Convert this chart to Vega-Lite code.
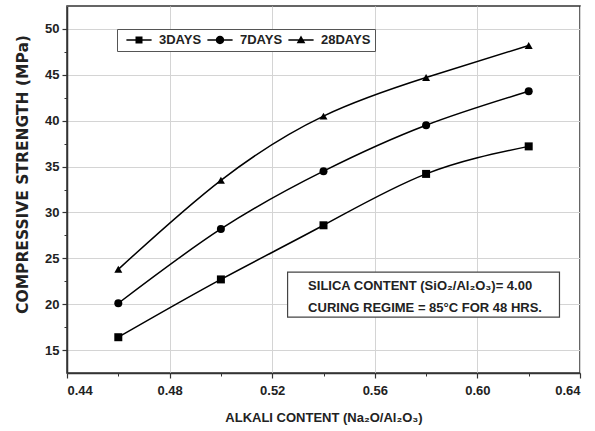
{
  "$schema": "https://vega.github.io/schema/vega-lite/v6.json",
  "width": 513,
  "height": 367,
  "autosize": "none",
  "padding": {"left": 67, "top": 6, "right": 15, "bottom": 58},
  "background": "white",
  "config": {
    "view": {"stroke": "#333", "strokeWidth": 1.5},
    "font": "Liberation Sans"
  },
  "datasets": {
    "main": [
      {"series": "3DAYS", "x": 0.46, "y": 16.4},
      {"series": "3DAYS", "x": 0.50, "y": 22.7},
      {"series": "3DAYS", "x": 0.54, "y": 28.6},
      {"series": "3DAYS", "x": 0.58, "y": 34.2},
      {"series": "3DAYS", "x": 0.62, "y": 37.2},
      {"series": "7DAYS", "x": 0.46, "y": 20.1},
      {"series": "7DAYS", "x": 0.50, "y": 28.2},
      {"series": "7DAYS", "x": 0.54, "y": 34.5},
      {"series": "7DAYS", "x": 0.58, "y": 39.5},
      {"series": "7DAYS", "x": 0.62, "y": 43.2},
      {"series": "28DAYS", "x": 0.46, "y": 23.8},
      {"series": "28DAYS", "x": 0.50, "y": 33.5},
      {"series": "28DAYS", "x": 0.54, "y": 40.5},
      {"series": "28DAYS", "x": 0.58, "y": 44.7},
      {"series": "28DAYS", "x": 0.62, "y": 48.2}
    ],
    "note": [{"x": 0.526, "x2": 0.632, "y": 23.5, "y2": 18.6}],
    "notetext": [
      {"x": 0.534, "y": 22.0, "t": "SILICA CONTENT (SiO₂/Al₂O₃)= 4.00"},
      {"x": 0.534, "y": 19.6, "t": "CURING REGIME = 85°C FOR 48 HRS."}
    ]
  },
  "resolve": {"axis": {"x": "independent", "y": "independent"}, "scale": {"shape": "independent"}},
  "layer": [
    {
      "data": {"name": "main"},
      "mark": {"type": "point", "opacity": 0},
      "encoding": {
        "x": {"field": "x", "type": "quantitative", "scale": {"domain": [0.44, 0.64], "nice": false, "zero": false},
          "axis": {"orient": "bottom", "values": [0.46, 0.50, 0.54, 0.58, 0.62], "labels": false, "grid": false, "domain": false, "tickSize": 3, "tickColor": "#333", "tickWidth": 1, "title": null}},
        "y": {"field": "y", "type": "quantitative", "scale": {"domain": [12.5, 52.5], "nice": false, "zero": false},
          "axis": {"orient": "left", "values": [17.5, 22.5, 27.5, 32.5, 37.5, 42.5, 47.5], "labels": false, "grid": false, "domain": false, "tickSize": 3, "tickColor": "#333", "tickWidth": 1, "title": null}}
      }
    },
    {
      "data": {"name": "main"},
      "mark": {"type": "line", "interpolate": "natural", "color": "black", "strokeWidth": 1.5},
      "encoding": {
        "x": {"field": "x", "type": "quantitative", "scale": {"domain": [0.44, 0.64], "nice": false, "zero": false},
          "axis": {"orient": "bottom", "values": [0.44, 0.48, 0.52, 0.56, 0.60, 0.64], "format": ".2f", "grid": true, "gridColor": "#d4d4d4", "gridWidth": 1,
            "domainColor": "#333", "domainWidth": 1.5, "tickColor": "#333", "tickSize": 5, "tickWidth": 1.2,
            "labelFont": "Liberation Sans", "labelFontWeight": "bold", "labelFontSize": 13, "labelColor": "#222", "labelPadding": 6,
            "title": "ALKALI CONTENT (Na₂O/Al₂O₃)", "titleFont": "Liberation Sans", "titleFontSize": 13, "titleFontWeight": "bold", "titleColor": "#222", "titlePadding": 14}},
        "y": {"field": "y", "type": "quantitative", "scale": {"domain": [12.5, 52.5], "nice": false, "zero": false},
          "axis": {"orient": "left", "values": [15, 20, 25, 30, 35, 40, 45, 50], "grid": true, "gridColor": "#d4d4d4", "gridWidth": 1,
            "domainColor": "#333", "domainWidth": 1.5, "tickColor": "#333", "tickSize": 5, "tickWidth": 1.2,
            "labelFont": "Liberation Sans", "labelFontWeight": "bold", "labelFontSize": 13, "labelColor": "#222", "labelPadding": 3,
            "title": "COMPRESSIVE STRENGTH (MPa)", "titleFont": "DejaVu Sans", "titleFontSize": 15.5, "titleFontWeight": "bold", "titleColor": "#222", "titlePadding": 14, "titleY": 168}},
        "detail": {"field": "series"}
      }
    },
    {
      "data": {"name": "main"},
      "mark": {"type": "point", "filled": true, "color": "black", "opacity": 1},
      "encoding": {
        "x": {"field": "x", "type": "quantitative", "axis": null},
        "y": {"field": "y", "type": "quantitative", "axis": null},
        "shape": {"field": "series", "type": "nominal",
          "scale": {"domain": ["3DAYS", "7DAYS", "28DAYS"], "range": ["square", "circle", "triangle-up"]},
          "legend": null},
        "size": {"value": 64}
      }
    },
    {
      "data": {"name": "main"},
      "transform": [{"filter": "false"}],
      "mark": {"type": "point", "filled": true, "color": "black", "opacity": 1},
      "encoding": {
        "shape": {"field": "series", "type": "nominal",
          "scale": {"domain": ["3DAYS", "7DAYS", "28DAYS"], "range": [
            "M-1.8,-0.1H1.8V0.1H-1.8ZM-0.5,-0.5H0.5V0.5H-0.5Z",
            "M-1.8,-0.1H1.8V0.1H-1.8ZM0.6,0A0.6,0.6 0 1,1 -0.6,0A0.6,0.6 0 1,1 0.6,0Z",
            "M-1.8,-0.1H1.8V0.1H-1.8ZM0,-0.65L0.62,0.45H-0.62Z"
          ]},
          "legend": {
            "title": null, "orient": "none", "legendX": 50, "legendY": 23, "direction": "horizontal",
            "padding": 4, "strokeColor": "#555", "fillColor": "white", "cornerRadius": 0,
            "symbolSize": 196, "symbolOffset": 11, "columnPadding": 0, "labelOffset": 13,
            "symbolFillColor": "black", "symbolStrokeColor": "black", "symbolStrokeWidth": 0, "symbolOpacity": 1,
            "labelFont": "Liberation Sans", "labelFontWeight": "bold", "labelFontSize": 13, "labelColor": "#222"
          }}
      }
    },
    {
      "data": {"name": "note"},
      "mark": {"type": "rect", "fill": "white", "stroke": "#444", "strokeWidth": 1.2},
      "encoding": {
        "x": {"field": "x", "type": "quantitative", "axis": null},
        "x2": {"field": "x2"},
        "y": {"field": "y", "type": "quantitative", "axis": null},
        "y2": {"field": "y2"}
      }
    },
    {
      "data": {"name": "notetext"},
      "mark": {"type": "text", "align": "left", "baseline": "middle", "font": "Liberation Sans", "fontWeight": "bold", "fontSize": 13, "color": "#222"},
      "encoding": {
        "x": {"field": "x", "type": "quantitative", "axis": null},
        "y": {"field": "y", "type": "quantitative", "axis": null},
        "text": {"field": "t"}
      }
    }
  ]
}
